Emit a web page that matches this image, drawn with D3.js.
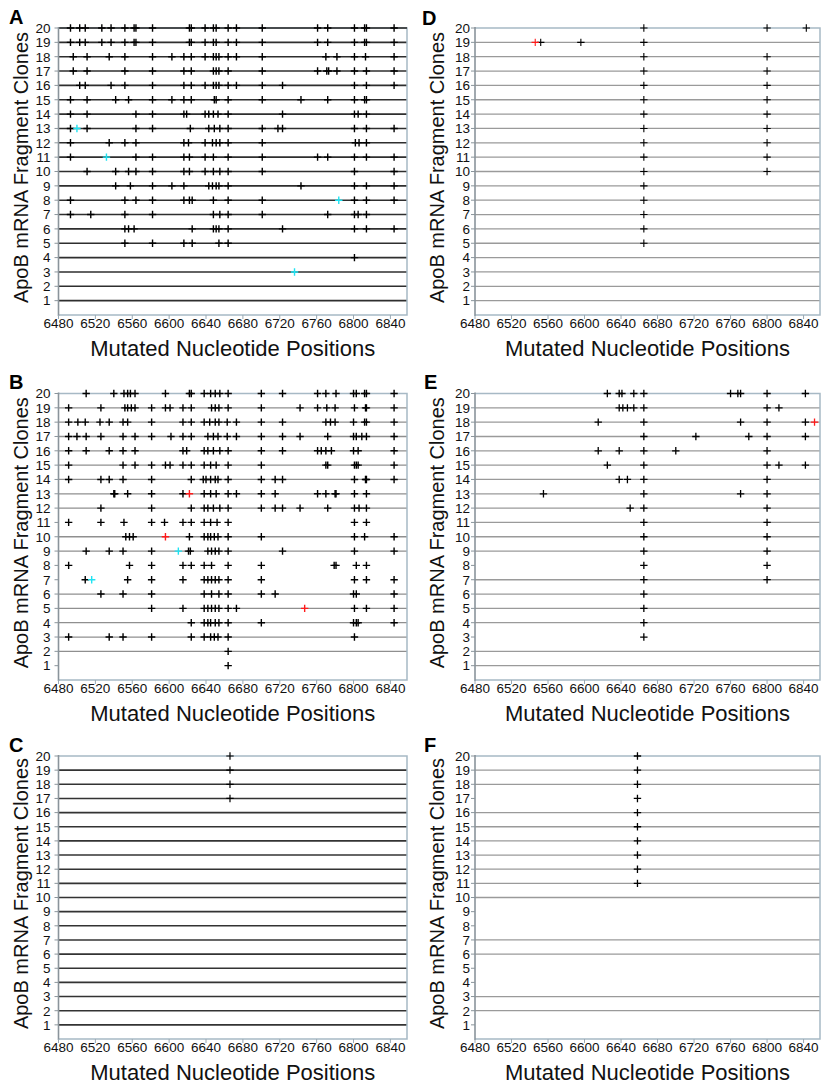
<!DOCTYPE html>
<html>
<head>
<meta charset="utf-8">
<script src="https://cdn.jsdelivr.net/npm/d3@7"></script>
<style>
  body { margin: 0; background: #fff; }
  svg { display: block; font-family: "Liberation Sans", Arial, Helvetica, sans-serif; }
</style>
</head>
<body>
<svg id="chart" width="822" height="1086"></svg>
<script>
// clone numbers on the y axis, nucleotide ticks on the x axis
const clones = d3.range(1, 21);
const xTicks = [6480, 6520, 6560, 6600, 6640, 6680, 6720, 6760, 6800, 6840];

// mutated positions, one list per clone (index 0 = clone 1)
const sitesA = [
  [], [], [], [6801],
  [6552, 6582, 6616, 6625, 6654, 6664],
  [6552, 6556, 6562, 6625, 6648, 6651, 6654, 6664, 6723, 6801, 6814, 6844],
  [6493, 6515, 6552, 6582, 6648, 6655, 6664, 6701, 6772, 6801, 6805, 6814],
  [6493, 6552, 6564, 6582, 6616, 6622, 6625, 6648, 6664, 6701, 6801, 6814, 6844],
  [6542, 6558, 6582, 6603, 6616, 6643, 6647, 6651, 6654, 6664, 6743, 6801, 6814, 6844],
  [6511, 6542, 6556, 6564, 6582, 6616, 6622, 6639, 6648, 6655, 6664, 6701, 6801, 6844],
  [6493, 6564, 6582, 6616, 6622, 6639, 6648, 6664, 6701, 6761, 6772, 6801, 6814, 6844],
  [6493, 6535, 6552, 6564, 6616, 6621, 6639, 6647, 6651, 6655, 6664, 6701, 6802, 6806, 6814],
  [6493, 6511, 6564, 6582, 6623, 6643, 6649, 6655, 6664, 6701, 6718, 6723, 6801, 6814, 6844],
  [6493, 6511, 6564, 6582, 6616, 6619, 6639, 6643, 6648, 6653, 6664, 6723, 6801, 6805, 6814],
  [6493, 6511, 6542, 6556, 6582, 6603, 6616, 6624, 6649, 6651, 6664, 6701, 6743, 6772, 6801, 6812, 6814],
  [6503, 6509, 6537, 6552, 6582, 6616, 6624, 6639, 6648, 6651, 6654, 6664, 6673, 6701, 6723, 6801, 6814, 6844],
  [6496, 6511, 6552, 6582, 6616, 6624, 6648, 6651, 6654, 6664, 6701, 6761, 6771, 6773, 6782, 6801, 6814, 6844],
  [6496, 6511, 6535, 6552, 6582, 6603, 6616, 6624, 6639, 6648, 6651, 6654, 6664, 6673, 6701, 6770, 6782, 6801, 6813, 6844],
  [6493, 6503, 6509, 6527, 6537, 6552, 6562, 6564, 6582, 6622, 6624, 6639, 6648, 6651, 6664, 6673, 6701, 6761, 6772, 6801, 6812, 6814, 6844],
  [6493, 6503, 6509, 6527, 6537, 6552, 6562, 6564, 6582, 6622, 6624, 6639, 6648, 6651, 6664, 6673, 6701, 6761, 6772, 6801, 6812, 6814, 6844]
];
const cyanA = [[3, 6736], [8, 6784], [11, 6532], [13, 6500]];

const sitesB = [
  [6664],
  [6664],
  [6491, 6535, 6550, 6581, 6624, 6638, 6645, 6649, 6653, 6664, 6801],
  [6624, 6638, 6642, 6645, 6650, 6654, 6664, 6700, 6800, 6803, 6805, 6844],
  [6581, 6615, 6638, 6642, 6646, 6650, 6654, 6664, 6673, 6801, 6814, 6844],
  [6526, 6550, 6581, 6638, 6646, 6654, 6664, 6700, 6715, 6800, 6803, 6844],
  [6509, 6555, 6581, 6615, 6638, 6642, 6646, 6650, 6654, 6664, 6700, 6801, 6814, 6844],
  [6491, 6557, 6581, 6615, 6624, 6638, 6646, 6664, 6700, 6779, 6781, 6803, 6814],
  [6510, 6535, 6550, 6581, 6621, 6623, 6642, 6646, 6650, 6654, 6664, 6723, 6801, 6844],
  [6553, 6557, 6561, 6622, 6638, 6642, 6645, 6649, 6653, 6664, 6700, 6801, 6812, 6844],
  [6491, 6526, 6551, 6581, 6595, 6615, 6624, 6638, 6645, 6652, 6664, 6801, 6814],
  [6526, 6581, 6624, 6638, 6642, 6648, 6655, 6664, 6700, 6715, 6723, 6742, 6772, 6801, 6806, 6814],
  [6540, 6541, 6555, 6581, 6615, 6638, 6645, 6651, 6664, 6673, 6700, 6715, 6761, 6770, 6780, 6781, 6801, 6814],
  [6491, 6526, 6535, 6550, 6581, 6624, 6637, 6640, 6645, 6650, 6653, 6664, 6700, 6715, 6723, 6801, 6813, 6814, 6844],
  [6491, 6550, 6563, 6581, 6596, 6601, 6615, 6624, 6638, 6645, 6651, 6664, 6700, 6770, 6772, 6801, 6803, 6805, 6844],
  [6491, 6510, 6535, 6550, 6563, 6615, 6619, 6638, 6642, 6648, 6655, 6664, 6700, 6723, 6761, 6765, 6770, 6776, 6800, 6805, 6844],
  [6491, 6500, 6510, 6526, 6550, 6563, 6581, 6602, 6615, 6624, 6642, 6648, 6653, 6663, 6673, 6700, 6723, 6742, 6772, 6800, 6803, 6809, 6814, 6844],
  [6491, 6501, 6509, 6525, 6535, 6550, 6555, 6581, 6615, 6624, 6638, 6644, 6650, 6654, 6663, 6673, 6700, 6723, 6770, 6775, 6780, 6800, 6812, 6814, 6844],
  [6491, 6526, 6552, 6555, 6559, 6563, 6581, 6596, 6601, 6615, 6624, 6646, 6650, 6654, 6664, 6700, 6742, 6761, 6771, 6780, 6801, 6813, 6814, 6844],
  [6510, 6540, 6551, 6555, 6558, 6563, 6596, 6622, 6624, 6638, 6645, 6650, 6655, 6664, 6700, 6723, 6761, 6770, 6781, 6800, 6803, 6812, 6814, 6844]
];
const redB = [[5, 6747], [10, 6596], [13, 6622]];
const cyanB = [[7, 6516], [9, 6610]];

const sitesC = [[], [], [], [], [], [], [], [], [], [], [], [], [], [], [], [],
  [6666], [6666], [6666], [6666]];

const sitesD = [
  [], [], [], [],
  [6665], [6665], [6665], [6665], [6665],
  [6665, 6800], [6665, 6800], [6665, 6800], [6665, 6800], [6665, 6800],
  [6665, 6800], [6665, 6800], [6665, 6800], [6665, 6800],
  [6552, 6596, 6665],
  [6665, 6800, 6843]
];
const redD = [[19, 6546]];

const sitesE = [
  [], [],
  [6665], [6665], [6665], [6665],
  [6665, 6800], [6665, 6800], [6665, 6800], [6665, 6800], [6665, 6800],
  [6650, 6665, 6800],
  [6555, 6665, 6771, 6800],
  [6638, 6647, 6665, 6800],
  [6625, 6665, 6800, 6813, 6842],
  [6615, 6638, 6665, 6700, 6800],
  [6665, 6722, 6780, 6800, 6842],
  [6615, 6665, 6771, 6800, 6842],
  [6638, 6642, 6647, 6654, 6665, 6800, 6813],
  [6625, 6638, 6641, 6654, 6665, 6760, 6768, 6771, 6800, 6842]
];
const redE = [[18, 6852]];

const sitesF = [[], [], [], [], [], [], [], [], [], [],
  [6658], [6658], [6658], [6658], [6658], [6658], [6658], [6658], [6658], [6658]];

// clones that have a horizontal rule drawn in each panel
const rulesA = d3.range(1, 21);
const rulesB = [2, 3, 4, 5, 6, 9, 10, 12, 13, 14, 15, 16, 17, 18, 19];
const rulesC = d3.range(1, 20);
const rulesD = d3.range(1, 20);
const rulesE = [1, 2, 4, 5, 6, 7, 9, 10, 11, 12, 13, 14, 15, 16, 17, 18, 19];
const rulesF = [2, 3, 6, 7, 10, 11, 12, 13, 14, 15, 16, 18, 19];

const svg = d3.select("#chart");

const left = { x0: 58.5, x1: 407, yLab: 28, tickGap: 8 };
const right = { x0: 475, x1: 820, yLab: 444, tickGap: 5 };
const rowsTop = { y0: 28, y1: 315 };
const rowsMid = { y0: 393.5, y1: 680 };
const rowsBot = { y0: 756, y1: 1039 };

const panels = [
  { key: "A", col: left, row: rowsTop, sites: sitesA, rules: rulesA, ruleColor: "#2e2e2e", ruleW: 1.6, marks: [[cyanA, "#1fe3f2"]], plusW: 1.4, letter: [9, 24] },
  { key: "B", col: left, row: rowsMid, sites: sitesB, rules: rulesB, ruleColor: "#8f8f8f", ruleW: 1.3, marks: [[redB, "#ff1a1a"], [cyanB, "#1fe3f2"]], plusW: 1.4, letter: [9, 389] },
  { key: "C", col: left, row: rowsBot, sites: sitesC, rules: rulesC, ruleColor: "#333", ruleW: 1.6, marks: [], plusW: 1.2, letter: [9, 752] },
  { key: "D", col: right, row: rowsTop, sites: sitesD, rules: rulesD, ruleColor: "#9a9a9a", ruleW: 1.3, marks: [[redD, "#ff1a1a"]], plusW: 1.1, letter: [422, 25] },
  { key: "E", col: right, row: rowsMid, sites: sitesE, rules: rulesE, ruleColor: "#9a9a9a", ruleW: 1.3, marks: [[redE, "#ff1a1a"]], plusW: 1.3, letter: [424, 389] },
  { key: "F", col: right, row: rowsBot, sites: sitesF, rules: rulesF, ruleColor: "#9a9a9a", ruleW: 1.3, marks: [], plusW: 1.3, letter: [424, 752] }
];

const plus = "M-3.7,0H3.7M0,-3.7V3.7";

panels.forEach(p => {
  const x = d3.scaleLinear().domain([6480, 6858]).range([p.col.x0, p.col.x1]);
  const y = d3.scaleLinear().domain([0, 20]).range([p.row.y1, p.row.y0]);
  const g = svg.append("g");

  // horizontal rules per clone
  g.selectAll(".rule")
    .data(p.rules)
    .join("line")
    .attr("x1", p.col.x0).attr("x2", p.col.x1)
    .attr("y1", d => y(d)).attr("y2", d => y(d))
    .attr("stroke", p.ruleColor)
    .attr("stroke-width", p.ruleW);

  // frame: top, right, bottom light; left axis grey
  g.append("path")
    .attr("d", `M${p.col.x0},${y(20)}H${p.col.x1}V${y(0)}H${p.col.x0}`)
    .attr("fill", "none")
    .attr("stroke", "#a7b9c5")
    .attr("stroke-width", 1.5);
  if (p.key === "A") {
    g.append("line")
      .attr("x1", p.col.x0).attr("x2", p.col.x1)
      .attr("y1", y(20)).attr("y2", y(20))
      .attr("stroke", p.ruleColor).attr("stroke-width", p.ruleW);
  }
  g.append("line")
    .attr("x1", p.col.x0).attr("x2", p.col.x0)
    .attr("y1", y(20) - 1).attr("y2", y(0) + 1)
    .attr("stroke", "#8a949b")
    .attr("stroke-width", 1.6);

  // y ticks and labels
  g.selectAll(".ytick")
    .data(clones)
    .join("line")
    .attr("x1", p.col.x0 - 4).attr("x2", p.col.x0)
    .attr("y1", d => y(d)).attr("y2", d => y(d))
    .attr("stroke", "#8a949b").attr("stroke-width", 1);
  g.selectAll(".ylab")
    .data(clones)
    .join("text")
    .attr("x", p.col.x0 - p.col.tickGap)
    .attr("y", d => y(d) + 4.8)
    .attr("text-anchor", "end")
    .attr("font-size", "13.5px")
    .attr("fill", "#111")
    .text(d => d);

  // x ticks and labels
  g.selectAll(".xtick")
    .data(xTicks)
    .join("line")
    .attr("x1", d => x(d)).attr("x2", d => x(d))
    .attr("y1", y(0)).attr("y2", y(0) + 4)
    .attr("stroke", "#9aa8b2").attr("stroke-width", 1);
  g.selectAll(".xlab")
    .data(xTicks)
    .join("text")
    .attr("x", d => x(d))
    .attr("y", y(0) + 13)
    .attr("text-anchor", "middle")
    .attr("font-size", "13.5px")
    .attr("fill", "#111")
    .text(d => d);

  // axis titles
  g.append("text")
    .attr("x", (p.col.x0 + p.col.x1) / 2)
    .attr("y", y(0) + 41)
    .attr("text-anchor", "middle")
    .attr("font-size", "22px")
    .attr("fill", "#111")
    .text("Mutated Nucleotide Positions");
  g.append("text")
    .attr("transform", `translate(${p.col.yLab},${(y(0) + y(20)) / 2 - 4}) rotate(-90)`)
    .attr("text-anchor", "middle")
    .attr("font-size", "20px")
    .attr("fill", "#111")
    .text("ApoB mRNA Fragment Clones");

  // panel letter
  g.append("text")
    .attr("x", p.letter[0]).attr("y", p.letter[1])
    .attr("font-size", "20px")
    .attr("font-weight", "bold")
    .attr("fill", "#000")
    .text(p.key);

  // mutation marks
  const pts = [];
  p.sites.forEach((list, i) => list.forEach(v => pts.push({ clone: i + 1, pos: v, color: "#000" })));
  p.marks.forEach(([list, color]) => list.forEach(([c, v]) => pts.push({ clone: c, pos: v, color })));
  g.selectAll(".mut")
    .data(pts)
    .join("path")
    .attr("d", plus)
    .attr("transform", d => `translate(${x(d.pos)},${y(d.clone)})`)
    .attr("fill", "none")
    .attr("stroke", d => d.color)
    .attr("stroke-width", p.plusW);
});
</script>
</body>
</html>
